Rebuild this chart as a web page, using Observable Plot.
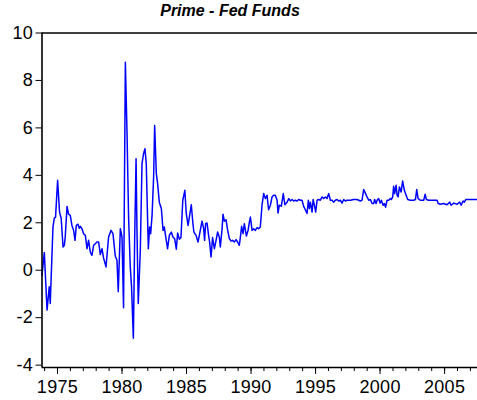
<!DOCTYPE html>
<html>
<head>
<meta charset="utf-8">
<script src="https://cdn.jsdelivr.net/npm/d3@7"></script>
<script src="https://cdn.jsdelivr.net/npm/@observablehq/plot@0.6"></script>
<style>
  html, body { margin: 0; padding: 0; background: #fff; }
</style>
</head>
<body>
<div id="chart"></div>
<script>
const title = "Prime - Fed Funds";

// decimal-year dates and spread values (percentage points)
const dates = [
  1973.80, 1973.98, 1974.19, 1974.36, 1974.44, 1974.65, 1974.75, 1974.85, 1975.01, 1975.16,
  1975.29, 1975.43, 1975.53, 1975.60, 1975.74, 1975.86, 1975.99, 1976.12, 1976.25, 1976.36,
  1976.46, 1976.59, 1976.69, 1976.77, 1976.90, 1977.02, 1977.16, 1977.29, 1977.41, 1977.54,
  1977.67, 1977.80, 1977.93, 1978.06, 1978.19, 1978.32, 1978.45, 1978.57, 1978.76, 1978.96,
  1979.15, 1979.30, 1979.48, 1979.61, 1979.71, 1979.87, 1980.00, 1980.12, 1980.26, 1980.39,
  1980.51, 1980.64, 1980.74, 1980.88, 1980.98, 1981.09, 1981.16, 1981.26, 1981.42, 1981.55,
  1981.67, 1981.78, 1981.88, 1981.96, 1982.04, 1982.14, 1982.22, 1982.33, 1982.45, 1982.53,
  1982.66, 1982.76, 1982.89, 1983.05, 1983.18, 1983.28, 1983.41, 1983.53, 1983.67, 1983.82,
  1983.95, 1984.08, 1984.21, 1984.31, 1984.44, 1984.57, 1984.71, 1984.87, 1984.98, 1985.12,
  1985.24, 1985.37, 1985.49, 1985.57, 1985.74, 1985.89, 1986.02, 1986.20, 1986.33, 1986.40,
  1986.48, 1986.59, 1986.71, 1986.79, 1986.90, 1987.02, 1987.16, 1987.29, 1987.41, 1987.54,
  1987.62, 1987.75, 1987.83, 1987.93, 1988.06, 1988.19, 1988.32, 1988.45, 1988.57, 1988.71,
  1988.84, 1988.96, 1989.09, 1989.17, 1989.27, 1989.38, 1989.48, 1989.64, 1989.77, 1989.87,
  1989.95, 1990.08, 1990.20, 1990.33, 1990.47, 1990.59, 1990.72, 1990.85, 1990.98, 1991.11,
  1991.24, 1991.36, 1991.50, 1991.63, 1991.75, 1991.88, 1992.02, 1992.09, 1992.19, 1992.35,
  1992.50, 1992.62, 1992.79, 1992.93, 1993.05, 1993.18, 1993.30, 1993.43, 1993.57, 1993.69,
  1993.82, 1993.95, 1994.08, 1994.21, 1994.34, 1994.44, 1994.52, 1994.60, 1994.73, 1994.81,
  1994.91, 1995.01, 1995.12, 1995.24, 1995.37, 1995.50, 1995.63, 1995.76, 1995.89, 1996.02,
  1996.15, 1996.28, 1996.40, 1996.53, 1996.67, 1996.79, 1996.92, 1997.05, 1997.18, 1997.31,
  1997.44, 1997.70, 1997.95, 1998.22, 1998.47, 1998.60, 1998.73, 1998.86, 1998.99, 1999.12,
  1999.25, 1999.38, 1999.50, 1999.58, 1999.69, 1999.77, 1999.89, 2000.00, 2000.10, 2000.23,
  2000.33, 2000.43, 2000.54, 2000.67, 2000.80, 2000.88, 2000.98, 2001.05, 2001.13, 2001.24,
  2001.32, 2001.40, 2001.50, 2001.63, 2001.75, 2001.88, 2002.02, 2002.14, 2002.35, 2002.60,
  2002.74, 2002.84, 2002.95, 2003.12, 2003.38, 2003.49, 2003.59, 2003.77, 2004.16, 2004.42,
  2004.50, 2004.67, 2004.93, 2005.19, 2005.40, 2005.50, 2005.71, 2005.97, 2006.17, 2006.28,
  2006.43, 2006.53, 2006.64, 2006.87, 2007.26, 2007.54
];
const spread = [
  -0.21, 0.75, -1.68, -0.70, -1.40, 1.82, 2.19, 2.24, 3.79, 2.45,
  2.17, 0.98, 1.05, 1.40, 2.69, 2.36, 2.31, 1.89, 1.68, 1.26,
  1.89, 1.94, 1.77, 1.85, 1.75, 1.54, 1.47, 0.91, 1.26, 0.77,
  0.63, 1.05, 1.12, 1.19, 1.19, 0.66, 0.91, 0.52, 0.14, 1.40,
  1.68, 1.54, 0.60, 0.42, -0.91, 1.75, 1.40, -1.58, 8.77, 5.75,
  2.24, 0.14, -0.70, -2.87, 1.26, 4.70, 1.68, -1.40, 0.84, 4.49,
  4.91, 5.12, 4.49, 2.66, 0.91, 1.82, 1.54, 2.31, 3.93, 6.10,
  4.07, 3.65, 2.87, 2.60, 1.68, 1.82, 1.33, 0.91, 1.47, 1.61,
  1.40, 1.33, 0.89, 1.57, 1.31, 1.38, 2.95, 3.37, 2.40, 1.89,
  2.30, 2.76, 2.00, 1.61, 1.47, 1.19, 1.54, 2.07, 1.75, 1.26,
  1.96, 1.99, 1.47, 1.19, 0.56, 1.38, 0.91, 1.26, 1.61, 1.40,
  0.98, 1.71, 2.36, 2.07, 2.13, 1.68, 1.33, 1.23, 1.26, 1.19,
  1.29, 1.19, 1.05, 1.38, 1.85, 1.54, 1.96, 1.44, 1.68, 2.03,
  2.24, 1.68, 1.75, 1.68, 1.80, 1.75, 1.82, 2.74, 3.23, 3.02,
  3.16, 2.55, 2.74, 3.09, 3.16, 3.16, 2.95, 2.41, 2.74, 2.70,
  3.23, 2.76, 2.87, 3.02, 2.92, 2.98, 2.92, 2.95, 2.92, 2.98,
  2.95, 2.95, 2.69, 2.55, 2.39, 2.95, 2.60, 2.87, 2.45, 2.98,
  2.74, 2.45, 2.95, 2.98, 2.95, 3.09, 3.02, 3.09, 3.02, 3.23,
  2.95, 2.95, 2.87, 2.95, 2.98, 2.92, 2.95, 2.83, 2.98, 2.92,
  2.95, 2.95, 2.98, 2.98, 2.92, 2.95, 3.40, 3.25, 3.09, 2.95,
  2.98, 2.81, 2.81, 2.98, 2.81, 2.95, 3.02, 2.83, 2.95, 2.74,
  2.81, 2.66, 2.95, 2.95, 3.02, 2.98, 3.09, 3.54, 3.23, 3.58,
  3.16, 3.09, 3.51, 3.30, 3.76, 3.37, 3.16, 2.98, 2.95, 2.95,
  2.98, 3.40, 3.02, 2.95, 2.95, 3.20, 2.98, 2.95, 2.95, 2.95,
  2.81, 2.78, 2.81, 2.76, 2.87, 2.74, 2.83, 2.78, 2.87, 2.74,
  2.92, 2.87, 2.98, 2.98, 2.98, 2.98
];

const xDomain = [1973.8, 2007.55];
const yDomain = [-4.1, 10];
const yearTicks = d3.range(1974, 2008);
const labelYears = [1975, 1980, 1985, 1990, 1995, 2000, 2005];
const yTicks = [-4, -2, 0, 2, 4, 6, 8, 10];

const data = dates.map((d, i) => ({date: d, value: spread[i]}));

const font = "'Liberation Sans', Arial, Helvetica, sans-serif";

const chart = Plot.plot({
  width: 477,
  height: 400,
  marginLeft: 41.5,
  marginRight: 0,
  marginTop: 32.5,
  marginBottom: 33,
  style: {fontFamily: font, fontSize: "18px", color: "black", background: "white", overflow: "visible", letterSpacing: "0.3px"},
  x: {domain: xDomain, label: null},
  y: {domain: yDomain, label: null},
  marks: [
    Plot.line(data, {x: "date", y: "value", stroke: "#0000ff", strokeWidth: 1.5}),
    Plot.axisX(yearTicks, {tickSize: 4, tickFormat: () => "", stroke: "black", strokeWidth: 1}),
    Plot.axisX(labelYears, {tickSize: 7, tickPadding: 5.5, tickFormat: d => String(d), stroke: "black", strokeWidth: 1, fontSize: 18}),
    Plot.axisY(yTicks, {tickSize: 6, tickPadding: 3, tickFormat: d => String(d), stroke: "black", strokeWidth: 1, fontSize: 18}),
    Plot.ruleX([xDomain[0]], {stroke: "black", strokeWidth: 1.6}),
    Plot.ruleY(yDomain, {stroke: "black", strokeWidth: 1.6})
  ]
});

d3.select(chart).append("text")
  .attr("x", 230)
  .attr("y", 15.5)
  .attr("text-anchor", "middle")
  .style("font-family", font)
  .style("font-size", "16px")
  .style("font-weight", "bold")
  .style("font-style", "italic")
  .style("letter-spacing", "0px")
  .attr("fill", "black")
  .text(title);

document.getElementById("chart").appendChild(chart);
</script>
</body>
</html>
